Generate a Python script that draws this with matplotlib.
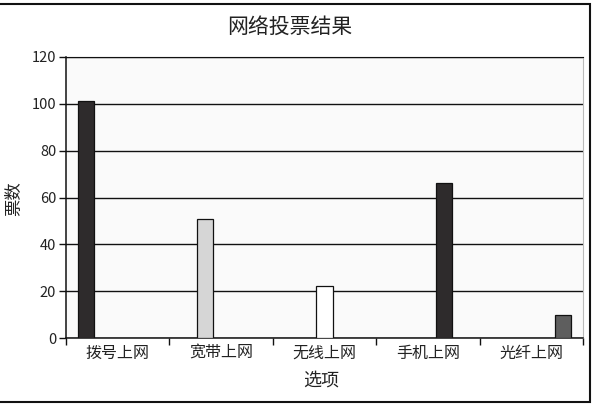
import numpy as np
import matplotlib
matplotlib.use('Agg')
from matplotlib import pyplot as plt
from matplotlib.patches import Rectangle

plt.rcParams['font.family'] = ['Noto Sans CJK SC', 'DejaVu Sans']
plt.rcParams['font.weight'] = 'light'

# -----------------------------
# 数据
# -----------------------------
categories = ['拨号上网', '宽带上网', '无线上网', '手机上网', '光纤上网']
votes = [101, 51, 22, 66, 10]
bar_colors = ['#2e2b2c', '#d6d6d6', '#ffffff', '#2e2b2c', '#5e5e5e']
y_ticks = [0, 20, 40, 60, 80, 100, 120]

fig = plt.figure(figsize=(5.97, 4.05), dpi=100)
ax = fig.add_axes([66 / 597, 1 - 338 / 405, 517 / 597, 281 / 405])
ax.set_facecolor('#fafafa')

# 簇状柱形图：每个系列只在自己的分类里有值
n = len(categories)
w = 0.155
side = (1 - n * w) / 2
for j, (v, c) in enumerate(zip(votes, bar_colors)):
    x = j - 0.5 + side + j * w + w / 2
    ax.bar(x, v, width=w, color=c, edgecolor='#111111', linewidth=0.9, zorder=3)

ax.set_xlim(-0.5, n - 0.5)
ax.set_ylim(0, 120)
ax.set_yticks(y_ticks)
ax.set_yticklabels([str(t) for t in y_ticks], fontsize=10.5, color='#222222')
ax.yaxis.grid(True, color='#111111', linewidth=1.0, zorder=1)

ax.set_xticks(range(n))
ax.set_xticklabels(categories, fontsize=11.5, color='#222222')
ax.set_xticks(np.arange(n + 1) - 0.5, minor=True)
ax.tick_params(axis='x', which='major', length=0, pad=5)
ax.tick_params(axis='x', which='minor', length=5, width=1, color='#111111')
ax.tick_params(axis='y', length=5, width=1, color='#111111', pad=2)

for s in ['left', 'bottom']:
    ax.spines[s].set_color('#111111')
    ax.spines[s].set_linewidth(1.1)
ax.spines['top'].set_color('#111111')
ax.spines['right'].set_color('#bbbbbb')
ax.set_axisbelow(True)

fig.text(0.486, 1 - 27 / 405, '网络投票结果', ha='center', va='center', fontsize=15, color='#222222')
fig.text(14 / 597, 1 - 199 / 405, '票数', ha='center', va='center', rotation=90, fontsize=12.5, color='#222222')
fig.text(321 / 597, 1 - 381 / 405, '选项', ha='center', va='center', fontsize=13, color='#222222')

# 外框
fig.patches.append(Rectangle((-0.01, 1 - 402 / 405), 590 / 597 + 0.01, 398 / 405,
                             transform=fig.transFigure, fill=False,
                             edgecolor='#111111', linewidth=1.5))

plt.savefig('out.png', dpi=100)
